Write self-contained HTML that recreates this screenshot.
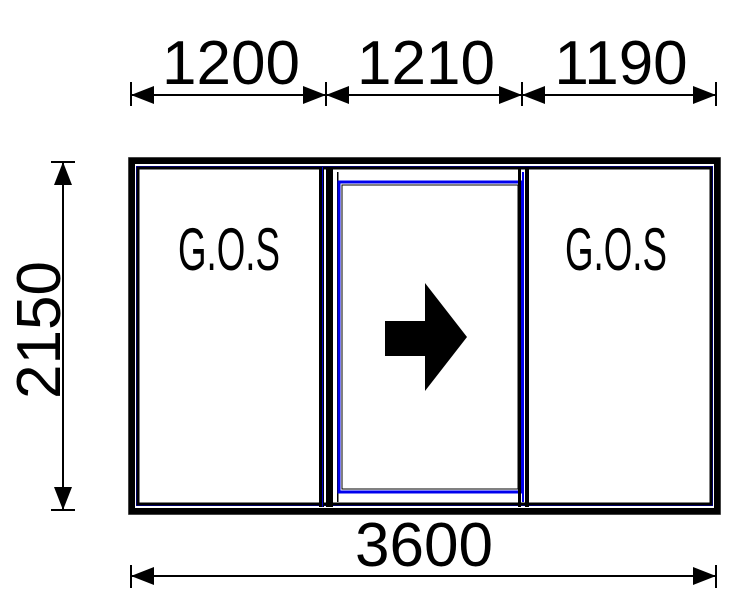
<!DOCTYPE html>
<html><head><style>body{margin:0;background:#fff}svg{display:block}</style></head><body>
<svg width="750" height="613" viewBox="0 0 750 613" xmlns="http://www.w3.org/2000/svg">
<rect width="750" height="613" fill="#fff"/>
<!-- outer frame -->
<rect x="128.5" y="157.5" width="592" height="357" fill="none" stroke="#888" stroke-width="1"/>
<rect x="131" y="160" width="587" height="352" fill="none" stroke="#000" stroke-width="5"/>
<rect x="134" y="163" width="581" height="346" fill="none" stroke="#000" stroke-width="2"/>
<rect x="136.5" y="166.5" width="576" height="339" fill="none" stroke="#0000cc" stroke-width="1"/>
<rect x="138" y="168" width="573" height="336" fill="none" stroke="#000" stroke-width="3"/>
<!-- left mullion -->
<rect x="319" y="167" width="5" height="340" fill="#000"/>
<rect x="322" y="167" width="1" height="340" fill="#0000cc"/>
<rect x="326" y="167" width="7" height="340" fill="#000"/>
<rect x="337" y="172" width="1.5" height="330" fill="#000"/>
<!-- middle sash -->
<rect x="339" y="182" width="182" height="310" fill="none" stroke="#0000ee" stroke-width="3"/>
<rect x="342" y="185" width="176" height="304" fill="none" stroke="#000" stroke-width="1"/>
<!-- right mullion -->
<rect x="518" y="167" width="3" height="340" fill="#000"/>
<rect x="522" y="172" width="2" height="330" fill="#0000ee"/>
<rect x="525" y="167" width="4" height="340" fill="#000"/>
<!-- GOS -->
<text x="229" y="270" font-family="'Liberation Sans',sans-serif" font-size="60" text-anchor="middle" textLength="102" lengthAdjust="spacingAndGlyphs" fill="#000">G.O.S</text>
<text x="616" y="270" font-family="'Liberation Sans',sans-serif" font-size="60" text-anchor="middle" textLength="102" lengthAdjust="spacingAndGlyphs" fill="#000">G.O.S</text>
<!-- arrow -->
<polygon points="385,321 425,321 425,283 467,337 425,391 425,356 385,356" fill="#000"/>
<!-- dimensions -->
<g stroke="#000" stroke-width="2" fill="none">
<line x1="131" y1="95" x2="716" y2="95"/>
<line x1="131" y1="82" x2="131" y2="106"/>
<line x1="326" y1="82" x2="326" y2="106"/>
<line x1="522" y1="82" x2="522" y2="106"/>
<line x1="716" y1="82" x2="716" y2="106"/>
<line x1="131" y1="576" x2="716" y2="576"/>
<line x1="131" y1="565" x2="131" y2="588"/>
<line x1="716" y1="565" x2="716" y2="588"/>
<line x1="63" y1="162" x2="63" y2="510"/>
<line x1="51" y1="162" x2="75" y2="162"/>
<line x1="51" y1="510" x2="75" y2="510"/>
</g>
<g fill="#000">
<polygon points="131,95 154,86 154,104"/>
<polygon points="326,95 303,86 303,104"/>
<polygon points="326,95 349,86 349,104"/>
<polygon points="522,95 499,86 499,104"/>
<polygon points="522,95 545,86 545,104"/>
<polygon points="716,95 693,86 693,104"/>
<polygon points="131,576 154,567 154,585"/>
<polygon points="716,576 693,567 693,585"/>
<polygon points="63,162 54,185 72,185"/>
<polygon points="63,510 54,487 72,487"/>
</g>
<g font-family="'Liberation Sans',sans-serif" font-size="62" fill="#000" text-anchor="middle">
<text x="231" y="84">1200</text>
<text x="426" y="84">1210</text>
<text x="621" y="84">1190</text>
<text x="424" y="566">3600</text>
<text transform="translate(60,330) rotate(-90)">2150</text>
</g>
</svg>
</body></html>
